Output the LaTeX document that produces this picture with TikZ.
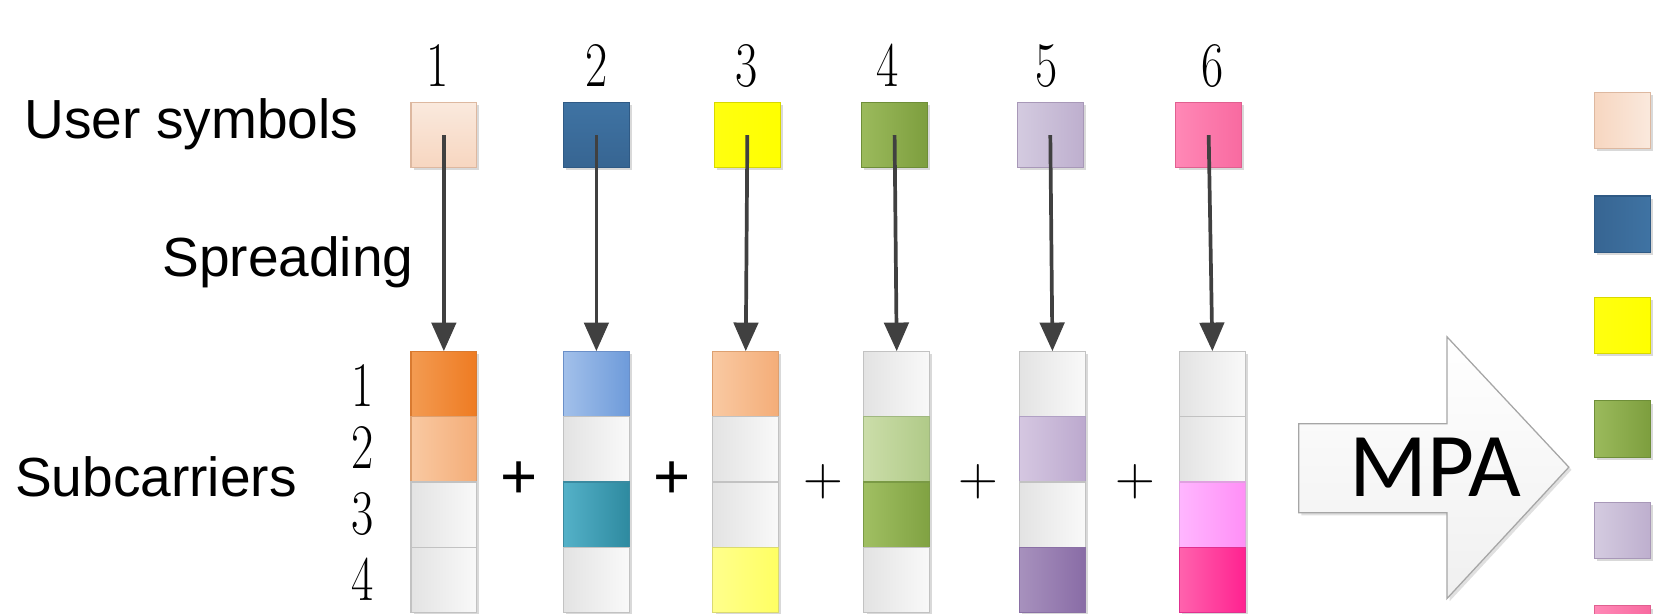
\documentclass[tikz,border=0pt]{standalone}
\usepackage{fontspec}
\usepackage{graphicx}
\usetikzlibrary{arrows.meta,shadows}
\newfontfamily\arialf{Liberation Sans}
\newfontfamily\calibf{Carlito}
\newcommand\nar[1]{\scalebox{0.76}[1]{#1}}
% colours
\definecolor{cgL}{HTML}{E3E3E3}\definecolor{cgR}{HTML}{F9F9F9}\definecolor{cgB}{HTML}{C2C2C2}
\definecolor{orAL}{HTML}{F39B52}\definecolor{orAR}{HTML}{EE7B22}\definecolor{orAB}{HTML}{D97A30}
\definecolor{orBL}{HTML}{F9C9A2}\definecolor{orBR}{HTML}{F4AD78}\definecolor{orBB}{HTML}{DDA070}
\definecolor{blAL}{HTML}{A2C0EA}\definecolor{blAR}{HTML}{6E9BDA}\definecolor{blAB}{HTML}{6A8FC8}
\definecolor{tlL}{HTML}{54B1C8}\definecolor{tlR}{HTML}{2E8AA0}\definecolor{tlB}{HTML}{3A8AA0}
\definecolor{ylL}{HTML}{FFFF8C}\definecolor{ylR}{HTML}{FFFF62}\definecolor{ylB}{HTML}{DADA70}
\definecolor{lgL}{HTML}{CBDDA9}\definecolor{lgR}{HTML}{B0CA88}\definecolor{lgB}{HTML}{A0B880}
\definecolor{gnL}{HTML}{A0BF62}\definecolor{gnR}{HTML}{80A242}\definecolor{gnB}{HTML}{7A9A45}
\definecolor{llL}{HTML}{D5C7E1}\definecolor{llR}{HTML}{BCA9CE}\definecolor{llB}{HTML}{B0A0C4}
\definecolor{puL}{HTML}{A791BD}\definecolor{puR}{HTML}{896CA6}\definecolor{puB}{HTML}{8A70A5}
\definecolor{lpL}{HTML}{FFB6FF}\definecolor{lpR}{HTML}{FF8FF6}\definecolor{lpB}{HTML}{E0A0E0}
\definecolor{hpL}{HTML}{FF62AD}\definecolor{hpR}{HTML}{FF2290}\definecolor{hpB}{HTML}{E03090}
\definecolor{peL}{HTML}{F7D6C0}\definecolor{peR}{HTML}{FAE9DD}\definecolor{peB}{HTML}{DDB8A0}
\definecolor{dbL}{HTML}{376592}\definecolor{dbR}{HTML}{3F73A3}\definecolor{dbB}{HTML}{2F5A85}
\definecolor{yeL}{HTML}{FFFF10}\definecolor{yeR}{HTML}{FFFF00}\definecolor{yeB}{HTML}{D8D800}
\definecolor{sgL}{HTML}{9BBA5C}\definecolor{sgR}{HTML}{7D9E3E}\definecolor{sgB}{HTML}{6E8E38}
\definecolor{lvL}{HTML}{D4CBE0}\definecolor{lvR}{HTML}{BEAFCE}\definecolor{lvB}{HTML}{A898B8}
\definecolor{pkL}{HTML}{FF88B6}\definecolor{pkR}{HTML}{F86AA0}\definecolor{pkB}{HTML}{E06090}
\definecolor{arrc}{HTML}{404040}
\tikzset{
  sq/.style={minimum width=62pt, minimum height=61pt, inner sep=0pt, line width=1pt,
    drop shadow={shadow xshift=2.5pt,shadow yshift=-2.5pt,fill=black!15,opacity=1}},
  cl/.style={sq, minimum height=61.5pt},
  fc/.style={draw=#1B, left color=#1L, right color=#1R},
  lab/.style={font=\arialf\fontsize{52}{52}\selectfont, inner sep=0pt, anchor=base west},
  num/.style={font=\fontsize{60}{60}\selectfont, inner sep=0pt},
  plusb/.style={font=\arialf\fontsize{60}{60}\selectfont, inner sep=0pt},
  plust/.style={font=\fontsize{52}{52}\selectfont, inner sep=0pt},
  spread/.style={draw=arrc, line width=3.5pt, -{Triangle[width=23pt,length=27pt]}},
  mpashape/.style={draw=black!35, line width=1.2pt, top color=white, bottom color=black!6,
    drop shadow={shadow xshift=2.5pt,shadow yshift=-2.5pt,fill=black!12,opacity=1}}
}
\begin{document}
\begin{tikzpicture}[x=1pt,y=-1pt]
\useasboundingbox (0,0) rectangle (1568,579);
% labels
\node[lab] (lus) at (23,131) {User symbols};
\node[lab] (lsp) at (153,261) {Spreading};
\node[lab] (lsc) at (14,469) {Subcarriers};
% user numbers
\node[num] (n1) at (413,62) {\nar{1}};
\node[num] (n2) at (563,62) {\nar{2}};
\node[num] (n3) at (705,62) {\nar{3}};
\node[num] (n4) at (838,62) {\nar{4}};
\node[num] (n5) at (988,62) {\nar{5}};
\node[num] (n6) at (1145,62) {\nar{6}};
% subcarrier numbers
\node[num] (r1) at (342,364) {\nar{1}};
\node[num] (r2) at (342,422) {\nar{2}};
\node[num] (r3) at (342,485) {\nar{3}};
\node[num] (r4) at (342,547) {\nar{4}};
% user symbols
\node[sq, draw=peB, top color=peR, bottom color=peL] (u1) at (419,127.5) {};
\node[sq, draw=dbB, top color=dbR, bottom color=dbL] (u2) at (563,127.5) {};
\node[sq, fc=ye] (u3) at (705.5,127.5) {};
\node[sq, fc=sg] (u4) at (844.5,127.5) {};
\node[sq, fc=lv] (u5) at (991.5,127.5) {};
\node[sq, fc=pk] (u6) at (1141,127.5) {};
% column 1
\node[cl, fc=orA] (c11) at (419,362.75) {};
\node[cl, fc=orB] (c12) at (419,424.25) {};
\node[cl, fc=cg]  (c13) at (419,485.75) {};
\node[cl, fc=cg]  (c14) at (419,547.25) {};
% column 2
\node[cl, fc=blA] (c21) at (563,362.75) {};
\node[cl, fc=cg]  (c22) at (563,424.25) {};
\node[cl, fc=tl]  (c23) at (563,485.75) {};
\node[cl, fc=cg]  (c24) at (563,547.25) {};
% column 3
\node[cl, fc=orB] (c31) at (704,362.75) {};
\node[cl, fc=cg]  (c32) at (704,424.25) {};
\node[cl, fc=cg]  (c33) at (704,485.75) {};
\node[cl, fc=yl]  (c34) at (704,547.25) {};
% column 4
\node[cl, fc=cg]  (c41) at (846.5,362.75) {};
\node[cl, fc=lg]  (c42) at (846.5,424.25) {};
\node[cl, fc=gn]  (c43) at (846.5,485.75) {};
\node[cl, fc=cg]  (c44) at (846.5,547.25) {};
% column 5
\node[cl, fc=cg]  (c51) at (993.5,362.75) {};
\node[cl, fc=ll]  (c52) at (993.5,424.25) {};
\node[cl, fc=cg]  (c53) at (993.5,485.75) {};
\node[cl, fc=pu]  (c54) at (993.5,547.25) {};
% column 6
\node[cl, fc=cg]  (c61) at (1144.5,362.75) {};
\node[cl, fc=cg]  (c62) at (1144.5,424.25) {};
\node[cl, fc=lp]  (c63) at (1144.5,485.75) {};
\node[cl, fc=hp]  (c64) at (1144.5,547.25) {};
% plus signs
\node[plusb] (p1) at (490,453) {+};
\node[plusb] (p2) at (634,453) {+};
\node[plust] (p3) at (777,455) {+};
\node[plust] (p4) at (924,455) {+};
\node[plust] (p5) at (1072,455) {+};
% spreading arrows
\draw[spread] (u1.center) -- (c11.north);
\draw[spread] (u2.center) -- (c21.north);
\draw[spread] (u3.center) -- (c31.north);
\draw[spread] (u4.center) -- (c41.north);
\draw[spread] (u5.center) -- (c51.north);
\draw[spread] (u6.center) -- (c61.north);
% MPA arrow
\draw[mpashape] (1226,400) -- (1366,400) -- (1366,318) -- (1481,441) -- (1366,565) -- (1366,484) -- (1226,484) -- cycle;
\node[font=\calibf\fontsize{86}{86}\selectfont, inner sep=0pt] (mpa) at (1355,441) {MPA};
% output symbols
\node[sq, minimum width=53pt, minimum height=53pt, fc=pe] (o1) at (1531.5,113.5) {};
\node[sq, minimum width=53pt, minimum height=53pt, fc=db] (o2) at (1531.5,211.5) {};
\node[sq, minimum width=53pt, minimum height=53pt, fc=ye] (o3) at (1531.5,307.5) {};
\node[sq, minimum width=53pt, minimum height=53pt, fc=sg] (o4) at (1531.5,405) {};
\node[sq, minimum width=53pt, minimum height=53pt, fc=lv] (o5) at (1531.5,500.5) {};
\node[sq, minimum width=53pt, minimum height=53pt, fc=pk] (o6) at (1531.5,598.5) {};
\end{tikzpicture}
\end{document}
